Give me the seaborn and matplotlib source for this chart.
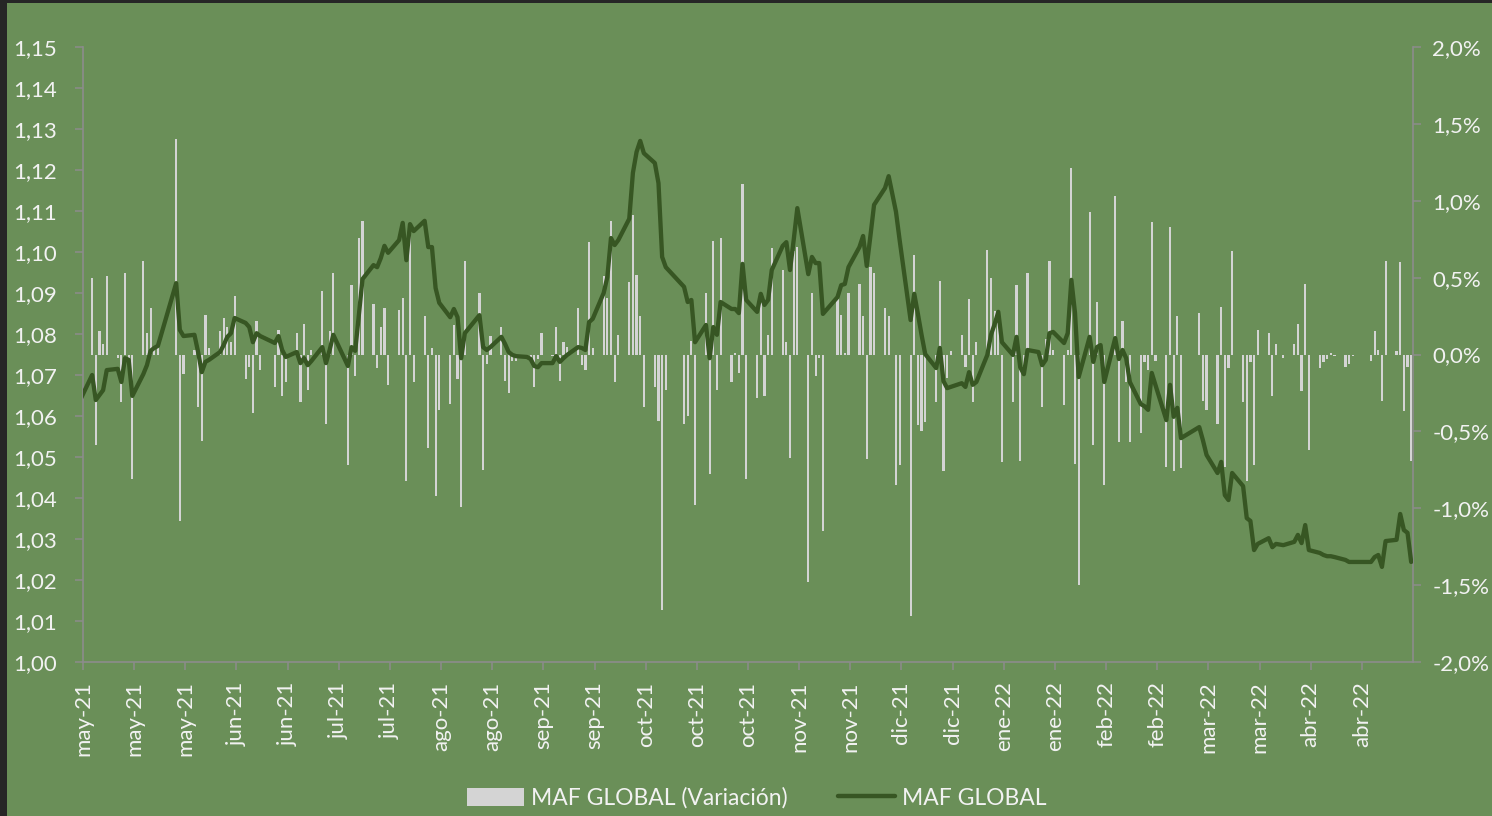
import numpy as np
import pandas as pd
import matplotlib
matplotlib.use("Agg")
import matplotlib.pyplot as plt
import seaborn as sns
from matplotlib.patches import Rectangle, Patch
from matplotlib.lines import Line2D

# ---------------- data ----------------
axis_start = "2021-05-01"
first_date = "2021-04-30"
last_date = "2022-04-29"
# Argentine market holidays (no quote)
holidays = ["2021-05-24", "2021-05-25", "2021-06-21", "2021-07-09", "2021-08-16",
            "2021-10-08", "2021-10-11", "2021-11-22", "2021-12-08", "2022-02-28",
            "2022-03-01", "2022-03-24", "2022-04-14", "2022-04-15"]

# MAF GLOBAL (left axis), one value per trading day, week by week
maf_global = [
    1.0644,
    1.0700, 1.0639, 1.0651, 1.0663, 1.0712,
    1.0715, 1.0683, 1.0741, 1.0737, 1.0649,
    1.0702, 1.0724, 1.0759, 1.0766, 1.0771,
    1.0924, 1.0810, 1.0795,
    1.0798, 1.0756, 1.0707, 1.0732, 1.0737,
    1.0756, 1.0773, 1.0793, 1.0802, 1.0839,
    1.0827, 1.0817, 1.0780, 1.0802, 1.0795,
    1.0778, 1.0795, 1.0761, 1.0744,
    1.0756, 1.0729, 1.0741, 1.0724, 1.0734,
    1.0768, 1.0729, 1.0761, 1.0798,
    1.0722, 1.0768, 1.0759, 1.0846, 1.0934,
    1.0968, 1.0963, 1.0985, 1.1015, 1.0998,
    1.1029, 1.1071, 1.0980, 1.1068, 1.1051,
    1.1076, 1.1012, 1.1012, 1.0912, 1.0876,
    1.0841, 1.0861, 1.0841, 1.0741, 1.0802,
    1.0846, 1.0768, 1.0761, 1.0768,
    1.0793, 1.0776, 1.0756, 1.0749, 1.0746,
    1.0744, 1.0739, 1.0722, 1.0719, 1.0729,
    1.0729, 1.0746, 1.0732, 1.0741, 1.0749,
    1.0768, 1.0766, 1.0761, 1.0829, 1.0837,
    1.0900, 1.0939, 1.1034, 1.1017, 1.1029,
    1.1081, 1.1193, 1.1244, 1.1271, 1.1241,
    1.1217, 1.1168, 1.0988, 1.0963,
    1.0915, 1.0878, 1.0883, 1.0780,
    1.0822, 1.0741, 1.0817, 1.0798, 1.0878,
    1.0861, 1.0861, 1.0851, 1.0971, 1.0883,
    1.0854, 1.0898, 1.0871, 1.0883, 1.0956,
    1.1015, 1.1024, 1.0956, 1.1029, 1.1107,
    1.0946, 1.0988, 1.0973, 1.0973, 1.0849,
    1.0890, 1.0919, 1.0922, 1.0963,
    1.1012, 1.1039, 1.0966, 1.1039, 1.1115,
    1.1156, 1.1185, 1.1098, 1.1029,
    1.0834, 1.0898, 1.0849, 1.0798, 1.0751,
    1.0717, 1.0766, 1.0685, 1.0668, 1.0671,
    1.0680, 1.0671, 1.0707, 1.0676, 1.0683,
    1.0749, 1.0798, 1.0824, 1.0854, 1.0780,
    1.0749, 1.0793, 1.0719, 1.0702, 1.0761,
    1.0756, 1.0724, 1.0737, 1.0802, 1.0805,
    1.0778, 1.0802, 1.0932, 1.0851, 1.0695,
    1.0793, 1.0732, 1.0768, 1.0773, 1.0683,
    1.0790, 1.0739, 1.0761, 1.0741, 1.0683,
    1.0629, 1.0624, 1.0615, 1.0705, 1.0676,
    1.0590, 1.0676, 1.0598, 1.0620, 1.0546,
    1.0573, 1.0541, 1.0505,
    1.0461, 1.0488, 1.0407, 1.0395, 1.0461,
    1.0429, 1.0351, 1.0344, 1.0273, 1.0288,
    1.0302, 1.0280, 1.0288, 1.0285,
    1.0293, 1.0310, 1.0290, 1.0334, 1.0273,
    1.0266, 1.0261, 1.0258, 1.0258, 1.0256,
    1.0249, 1.0244, 1.0244,
    1.0244, 1.0256, 1.0261, 1.0232, 1.0295,
    1.0298, 1.0361, 1.0322, 1.0315, 1.0244,
]

# MAF GLOBAL (Variación) in %, right axis
maf_variacion = [
    -0.05,
    0.50, -0.59, 0.15, 0.07, 0.51,
    -0.02, -0.31, 0.53, -0.03, -0.81,
    0.61, 0.14, 0.30, 0.04, 0.05,
    1.40, -1.08, -0.13,
    0.03, -0.34, -0.56, 0.26, 0.04,
    0.15, 0.24, 0.18, 0.08, 0.38,
    -0.16, -0.08, -0.38, 0.22, -0.10,
    -0.21, 0.16, -0.27, -0.18,
    0.14, -0.31, 0.20, -0.23, 0.03,
    0.41, -0.45, 0.15, 0.53,
    -0.72, 0.45, -0.14, 0.76, 0.87,
    0.33, -0.09, 0.18, 0.30, -0.20,
    0.29, 0.37, -0.82, 0.85, -0.18,
    0.25, -0.61, 0.04, -0.92, -0.36,
    -0.32, 0.19, -0.16, -0.99, 0.61,
    0.40, -0.75, -0.06, 0.12,
    0.18, -0.17, -0.25, -0.04, -0.04,
    -0.03, -0.05, -0.21, -0.03, 0.14,
    -0.01, 0.18, -0.17, 0.08, 0.05,
    0.30, -0.07, -0.10, 0.73, 0.04,
    0.51, 0.37, 0.87, -0.18, 0.13,
    0.47, 0.91, 0.52, 0.25, -0.34,
    -0.21, -0.43, -1.66, -0.23,
    -0.45, -0.40, 0.09, -0.98,
    0.40, -0.78, 0.74, -0.23, 0.76,
    -0.18, 0.01, -0.12, 1.11, -0.81,
    -0.28, 0.40, -0.27, 0.13, 0.69,
    0.55, 0.08, -0.67, 0.67, 0.70,
    -1.48, 0.40, -0.14, -0.02, -1.15,
    0.39, 0.26, 0.01, 0.40,
    0.46, 0.25, -0.68, 0.57, 0.53,
    0.30, 0.25, -0.85, -0.72,
    -1.70, 0.65, -0.46, -0.50, -0.44,
    -0.31, 0.48, -0.76, -0.15, 0.02,
    0.13, -0.08, 0.36, -0.31, 0.08,
    0.68, 0.50, 0.28, 0.24, -0.70,
    -0.31, 0.45, -0.69, -0.13, 0.53,
    0.01, -0.34, 0.10, 0.61, 0.03,
    -0.33, 0.03, 1.21, -0.71, -1.50,
    0.93, -0.59, 0.34, -0.05, -0.85,
    1.03, -0.57, 0.22, -0.18, -0.57,
    -0.51, -0.05, -0.10, 0.86, -0.04,
    -0.73, 0.83, -0.76, 0.25, -0.74,
    0.27, -0.30, -0.36,
    -0.45, 0.31, -0.73, -0.09, 0.67,
    -0.31, -0.82, -0.05, -0.72, 0.16,
    0.14, -0.27, 0.07, -0.02,
    0.07, 0.20, -0.24, 0.46, -0.62,
    -0.09, -0.05, -0.03, 0.01, -0.01,
    -0.08, -0.06, -0.01,
    -0.04, 0.15, 0.03, -0.30, 0.61,
    0.02, 0.60, -0.37, -0.08, -0.69,
]

x_tick_labels = ["may-21", "may-21", "may-21", "jun-21", "jun-21", "jul-21", "jul-21",
                 "ago-21", "ago-21", "sep-21", "sep-21", "oct-21", "oct-21", "oct-21",
                 "nov-21", "nov-21", "dic-21", "dic-21", "ene-22", "ene-22", "feb-22",
                 "feb-22", "mar-22", "mar-22", "abr-22", "abr-22"]
left_ticks = [1.00, 1.01, 1.02, 1.03, 1.04, 1.05, 1.06, 1.07, 1.08, 1.09,
              1.10, 1.11, 1.12, 1.13, 1.14, 1.15]
right_ticks = [-2.0, -1.5, -1.0, -0.5, 0.0, 0.5, 1.0, 1.5, 2.0]
legend_labels = ["MAF GLOBAL (Variación)", "MAF GLOBAL"]

# ---------------- build frame ----------------
dates = pd.bdate_range(first_date, last_date)
dates = dates[~dates.isin(pd.to_datetime(holidays))]
assert len(dates) == len(maf_global) == len(maf_variacion)
df = pd.DataFrame({
    "fecha": dates,
    "maf": maf_global,
    "var": maf_variacion,
})
df["dia"] = (df["fecha"] - pd.Timestamp(axis_start)).dt.days + 0.5

# ---------------- style ----------------
BG = "#6a8f58"
BAR = "#d4d4d4"
LINE = "#375623"
TXT = "#f2f2f2"
GRID = "#8c8c8c"
FS = 16

sns.set_theme(style="white")
plt.rcParams["font.family"] = ["Lato", "DejaVu Sans"]
plt.rcParams["axes.unicode_minus"] = False

fig = plt.figure(figsize=(14.92, 8.16), dpi=100, facecolor=BG)
ax = fig.add_axes([83 / 1492, 1 - 662 / 816, (1413 - 83) / 1492, (662 - 47) / 816])
ax.set_facecolor(BG)

# bars (right axis scale)
ax.bar(df["dia"], df["var"], width=0.6, color=BAR, linewidth=0, zorder=2)
ax.set_ylim(-2.0, 2.0)
ax.set_xlim(0, 364)

# line (left axis scale)
ax2 = ax.twinx()
sns.lineplot(data=df, x="dia", y="maf", ax=ax2, color=LINE, linewidth=3.1, zorder=3)
ax2.set_ylim(1.00, 1.15)
ax2.set_xlim(0, 364)
ax2.set_xlabel("")
ax2.set_ylabel("")
ax.set_xlabel("")
ax.set_ylabel("")

# percentage axis on the right (bars), value axis on the left (line)
ax.yaxis.tick_right()
ax.set_yticks(right_ticks)
ax.set_yticklabels([f"{v:.1f}%".replace(".", ",") for v in right_ticks])
ax2.yaxis.tick_left()
ax2.set_yticks(left_ticks)
ax2.set_yticklabels([f"{v:.2f}".replace(".", ",") for v in left_ticks])

# x ticks
ax.set_xticks(np.arange(0, 14 * len(x_tick_labels), 14))
ax.set_xticklabels(x_tick_labels, rotation=90)

for a in (ax, ax2):
    for s in a.spines.values():
        s.set_visible(False)
ax.spines["bottom"].set_visible(True)
ax.spines["bottom"].set_color(GRID)
ax.spines["bottom"].set_linewidth(1.2)
ax.spines["right"].set_visible(True)
ax.spines["right"].set_color(GRID)
ax.spines["right"].set_linewidth(1.2)
ax2.spines["left"].set_visible(True)
ax2.spines["left"].set_color(GRID)
ax2.spines["left"].set_linewidth(1.2)

ax.tick_params(axis="x", direction="out", length=6, width=1.1, color=GRID,
               labelcolor=TXT, labelsize=FS, pad=8, bottom=True)
ax.tick_params(axis="y", direction="out", length=6, width=1.1, color=GRID,
               labelcolor=TXT, labelsize=FS, pad=8, right=True, left=False,
               labelright=True, labelleft=False)
ax2.tick_params(axis="y", direction="out", length=6, width=1.1, color=GRID,
                labelcolor=TXT, labelsize=FS, pad=13, left=True, right=False,
                labelleft=True, labelright=False)
ax.grid(False)
ax2.grid(False)

# legend
handles = [Patch(facecolor=BAR, edgecolor="none"),
           Line2D([], [], color=LINE, linewidth=3.2)]
fig.legend(handles, legend_labels, loc="center", bbox_to_anchor=(0.507, 0.022),
           ncol=2, frameon=False, handlelength=2.5, handleheight=0.8,
           handletextpad=0.3, columnspacing=2.2, fontsize=16.5, labelcolor=TXT)

# dark frame at top/left edge, as in the screenshot
fig.patches.append(Rectangle((0, 0), 7 / 1492, 1, transform=fig.transFigure,
                             facecolor="#262626", edgecolor="none", zorder=10))
fig.patches.append(Rectangle((0, 1 - 3 / 816), 1, 3 / 816, transform=fig.transFigure,
                             facecolor="#262626", edgecolor="none", zorder=10))

fig.savefig("out.png", dpi=100, facecolor=BG)
